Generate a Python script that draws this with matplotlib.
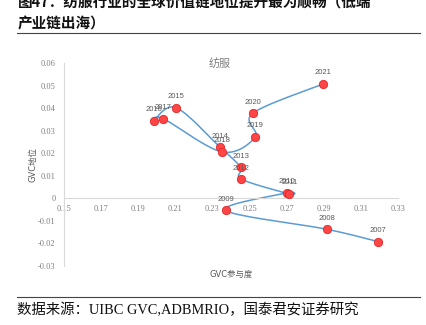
import numpy as np
import matplotlib
matplotlib.use("Agg")
import matplotlib.pyplot as plt

plt.rcParams['font.family'] = ['Liberation Sans', 'Noto Sans CJK SC', 'DejaVu Sans']

years = ['2007', '2008', '2009', '2010', '2011', '2012', '2013', '2014',
         '2015', '2016', '2017', '2018', '2019', '2020', '2021']
participation = [0.3194, 0.2916, 0.2371, 0.2700, 0.2714, 0.2456, 0.2452, 0.2341,
                 0.2104, 0.1985, 0.2035, 0.2351, 0.2531, 0.2517, 0.2896]
position = [-0.0192, -0.0137, -0.0053, 0.0024, 0.0019, 0.0085, 0.0137, 0.0227,
            0.0402, 0.0343, 0.0353, 0.0206, 0.0272, 0.0377, 0.0507]

x_ticks = [0.15, 0.17, 0.19, 0.21, 0.23, 0.25, 0.27, 0.29, 0.31, 0.33]
y_ticks = [-0.03, -0.02, -0.01, 0, 0.01, 0.02, 0.03, 0.04, 0.05, 0.06]

GRAY = '#595959'
LINE = '#5B9BD5'


def smooth(pts, n=30):
    # catmull-rom style bezier, same idea as excel's smoothed line
    pts = np.asarray(pts, float)
    ext = np.vstack([pts[0], pts, pts[-1]])
    out = []
    t = np.linspace(0, 1, n)[:, None]
    for i in range(1, len(ext) - 2):
        p0, p1, p2, p3 = ext[i - 1], ext[i], ext[i + 1], ext[i + 2]
        c1 = p1 + (p2 - p0) / 6
        c2 = p2 - (p3 - p1) / 6
        seg = ((1 - t) ** 3) * p1 + 3 * ((1 - t) ** 2) * t * c1 + 3 * (1 - t) * t ** 2 * c2 + t ** 3 * p2
        out.append(seg)
    return np.vstack(out)


fig = plt.figure(figsize=(4.27, 3.25), dpi=100)
ax = fig.add_axes([0.1499, 0.1815, 0.7822, 0.6246])
ax.set_xlim(0.15, 0.33)
ax.set_ylim(-0.03, 0.06)

# smooth in screen space so the curve shape follows the drawn aspect
disp = ax.transData.transform(np.column_stack([participation, position]))
curve = ax.transData.inverted().transform(smooth(disp))
ax.plot(curve[:, 0], curve[:, 1], color=LINE, lw=1.1, zorder=2)
ax.plot(participation, position, 'o', ms=6, mfc='#FF4545', mec='#E02828', mew=0.6, zorder=3)

for yr, xv, yv in zip(years, participation, position):
    ax.annotate(yr, (xv, yv), xytext=(0, 5.5), textcoords='offset points',
                ha='center', va='bottom', fontsize=5.5, color=GRAY)

for s in ['top', 'right']:
    ax.spines[s].set_visible(False)
ax.spines['bottom'].set_position(('data', 0))
ax.spines['bottom'].set_color('#D9D9D9')
ax.spines['left'].set_color('#D9D9D9')
ax.spines['bottom'].set_linewidth(0.8)
ax.spines['left'].set_linewidth(0.8)

ax.set_xticks(x_ticks)
ax.set_xticklabels([f'{v:g}' for v in x_ticks])
ax.set_yticks(y_ticks)
ax.set_yticklabels([f'{v:g}' for v in y_ticks])
ax.tick_params(length=0, labelsize=6, labelcolor='#7F7F7F')
ax.tick_params(axis='x', pad=5)
ax.tick_params(axis='y', pad=6)
for lab in ax.get_xticklabels() + ax.get_yticklabels():
    lab.set_family('Liberation Serif')

ax.text(0.465, 1.0, '纺服', transform=ax.transAxes, ha='center', va='center',
        fontsize=8, color='#7F7F7F', family=['Noto Sans CJK SC'])
fig.text(33 / 427, 1 - 165 / 325, 'GVC地位', rotation=90, ha='center', va='center',
         fontsize=6, color=GRAY, family=['DejaVu Sans', 'Noto Sans CJK SC'])
fig.text(231 / 427, 1 - 274 / 325, 'GVC参与度', ha='center', va='center',
         fontsize=6, color=GRAY, family=['DejaVu Sans', 'Noto Sans CJK SC'])

# report title and source
fig.text(18 / 427, 1 - 3 / 325, '图47：纺服行业的全球价值链地位提升最为顺畅（低端',
         ha='left', va='center', fontsize=10.5, weight='bold', color='#111111',
         family=['Noto Sans CJK SC'])
fig.text(18 / 427, 1 - 23 / 325, '产业链出海）', ha='left', va='center',
         fontsize=10.5, weight='bold', color='#111111', family=['Noto Sans CJK SC'])
fig.add_artist(plt.Line2D([17 / 427, 420 / 427], [1 - 33 / 325] * 2, color='#444444', lw=0.8))
fig.add_artist(plt.Line2D([17 / 427, 420 / 427], [1 - 297 / 325] * 2, color='#444444', lw=0.8))
fig.text(17 / 427, 1 - 310 / 325, '数据来源：UIBC GVC,ADBMRIO，国泰君安证券研究',
         ha='left', va='center', fontsize=10.4, color='#111111',
         family=['Liberation Serif', 'Noto Sans CJK SC'])

fig.savefig('out.png', dpi=100)
